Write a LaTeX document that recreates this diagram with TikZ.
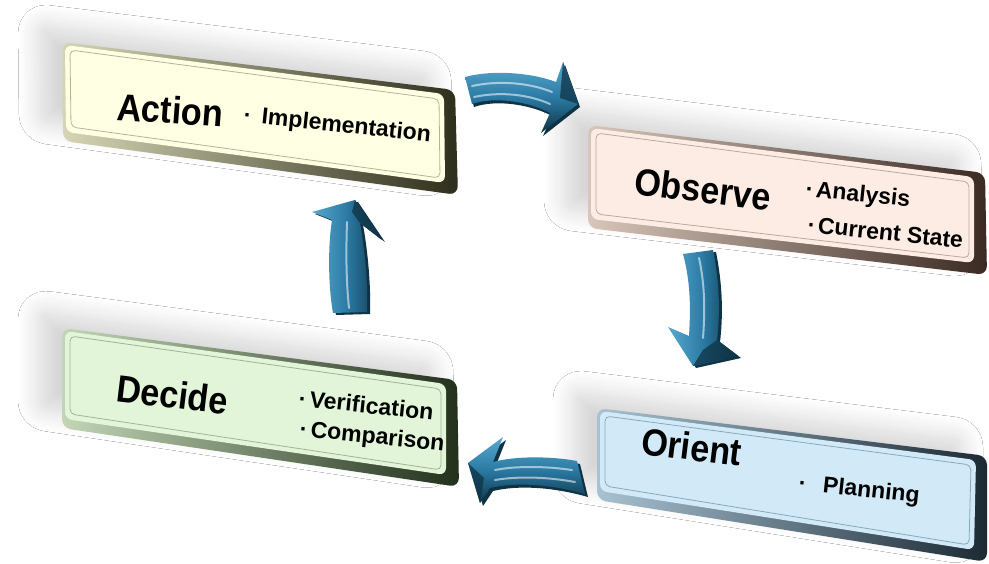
\documentclass[tikz,border=0pt]{standalone}
\usepackage{fontspec}
\setmainfont{Liberation Sans}
\usetikzlibrary{calc,shadows.blur}
\definecolor{faceA}{HTML}{FFFFE4}
\definecolor{edgeLA}{HTML}{D6D6B6}
\definecolor{edgeDA}{HTML}{2E2E1C}
\definecolor{lineA}{HTML}{B4B494}
\definecolor{faceO}{HTML}{FCECE3}
\definecolor{edgeLO}{HTML}{D8C6BA}
\definecolor{edgeDO}{HTML}{3A2A22}
\definecolor{lineO}{HTML}{BCA89C}
\definecolor{faceD}{HTML}{E3F5D9}
\definecolor{edgeLD}{HTML}{C2D6B6}
\definecolor{edgeDD}{HTML}{22301C}
\definecolor{lineD}{HTML}{9EB592}
\definecolor{faceR}{HTML}{D2EAF8}
\definecolor{edgeLR}{HTML}{A8C2D2}
\definecolor{edgeDR}{HTML}{1C2A34}
\definecolor{lineR}{HTML}{88A8BC}
\definecolor{arrLight}{HTML}{5AA8CE}
\definecolor{arrMid}{HTML}{2A7AA4}
\definecolor{arrDark}{HTML}{0F3345}
\newcommand\oodabox[5]{%
  \path[blur shadow={shadow xshift=-24pt, shadow yshift=18pt, shadow opacity=16, shadow blur radius=20pt, shadow blur steps=12},
        left color=#3, right color=#4, rounded corners=9]
    (#1tl) -- (#1tr) -- (#1br) -- (#1bl) -- cycle;
  \path[fill=#2, rounded corners=7]
    ($(#1tl)+(3,3)$) -- ($(#1tr)+(-11,4)$) -- ($(#1br)+(-13,-12)$) -- ($(#1bl)+(3,-9)$) -- cycle;
  \draw[#5, line width=0.8pt, rounded corners=5]
    ($(#1tl)+(8,8)$) -- ($(#1tr)+(-16,9)$) -- ($(#1br)+(-18,-17)$) -- ($(#1bl)+(8,-14)$) -- cycle;
}
\tikzset{
  title/.style={font=\bfseries\fontsize{38}{40}\selectfont, anchor=base west, inner sep=0pt, rotate=-7, xscale=0.9},
  item/.style={font=\bfseries\fontsize{23}{26}\selectfont, anchor=base west, inner sep=0pt, rotate=-6},
  arrowh/.style={top color=arrLight, bottom color=arrDark, middle color=arrMid},
  arrowv/.style={left color=arrLight, right color=arrDark, middle color=arrMid},
  arrowside/.style={fill=arrDark},
  facet/.style={fill=arrDark, opacity=0.75},
  hilite/.style={draw=white, opacity=0.55, line width=2pt, line cap=round}
}
\begin{document}
\begin{tikzpicture}[x=1pt, y=-1pt]
\useasboundingbox (0,0) rectangle (989,564);
\fill[white] (0,0) rectangle (989,564);
% corners
\coordinate (Atl) at (62,42);  \coordinate (Atr) at (455,90);  \coordinate (Abr) at (458,195); \coordinate (Abl) at (63,141);
\coordinate (Otl) at (588,125); \coordinate (Otr) at (985,173); \coordinate (Obr) at (987,275); \coordinate (Obl) at (588,228);
\coordinate (Dtl) at (62,328); \coordinate (Dtr) at (457,380); \coordinate (Dbr) at (459,487); \coordinate (Dbl) at (62,428);
\coordinate (Rtl) at (597,408); \coordinate (Rtr) at (987,456); \coordinate (Rbr) at (987,562); \coordinate (Rbl) at (597,500);
\oodabox{A}{faceA}{edgeLA}{edgeDA}{lineA}
\oodabox{O}{faceO}{edgeLO}{edgeDO}{lineO}
\oodabox{D}{faceD}{edgeLD}{edgeDD}{lineD}
\oodabox{R}{faceR}{edgeLR}{edgeDR}{lineR}
% texts
\node[title, rotate=3] (tA) at (116,120) {Action};
\node[item] (iA1) at (243,122) {·\hspace{0.45em}Implementation};
\node[title] (tO) at (633,194) {Observe};
\node[item] (iO1) at (805,196) {·\hspace{0.11em}Analysis};
\node[item] (iO2) at (807,232) {·\hspace{0.11em}Current State};
\node[title] (tD) at (115,401) {Decide};
\node[item] (iD1) at (298,406) {·\hspace{0.15em}Verification};
\node[item] (iD2) at (299,436) {·\hspace{0.15em}Comparison};
\node[title] (tR) at (640,454) {Orient};
\node[item] (iR1) at (798,490) {·\hspace{0.72em}Planning};
% arrow 1: Action -> Observe
\path[arrowside] (467,80) .. controls (492,73) and (532,75) .. (558,85) -- (565,65) -- (580,107) -- (543,136) -- (552,116) .. controls (532,105) and (497,99) .. (474,107) -- cycle;
\path[arrowh] (465,77) .. controls (490,70) and (530,72) .. (556,82) -- (563,62) -- (578,104) -- (541,133) -- (550,113) .. controls (530,102) and (495,96) .. (472,104) -- cycle;
\path[facet] (563,62) -- (578,104) -- (560,98) -- cycle;
\path[hilite] (472,86) .. controls (500,80) and (530,83) .. (552,92);
\path[hilite] (474,97) .. controls (502,91) and (530,95) .. (550,104);
% arrow 2: Observe -> Orient
\path[arrowside] (686,256) -- (716,252) .. controls (723,287) and (723,317) .. (720,342) -- (741,358) -- (696,368) -- (671,329) -- (692,338) .. controls (694,307) and (693,282) .. (686,256) -- cycle;
\path[arrowv] (683,254) -- (713,250) .. controls (720,285) and (720,315) .. (717,340) -- (738,356) -- (693,366) -- (668,327) -- (689,336) .. controls (691,305) and (690,280) .. (683,254) -- cycle;
\path[facet] (717,340) -- (738,356) -- (693,366) -- (703,350) -- cycle;
\path[hilite] (699,258) .. controls (705,285) and (705,312) .. (703,338);
% arrow 3: Orient -> Decide
\path[arrowside] (580,464) .. controls (553,459) and (518,459) .. (496,465) -- (506,440) -- (471,466) -- (483,506) -- (493,491) .. controls (518,485) and (553,487) .. (588,497) -- cycle;
\path[arrowh] (577,461) .. controls (550,456) and (515,456) .. (493,462) -- (503,437) -- (468,463) -- (480,503) -- (490,488) .. controls (515,482) and (550,484) .. (585,494) -- cycle;
\path[facet] (468,463) -- (480,503) -- (484,478) -- cycle;
\path[hilite] (572,470) .. controls (545,466) and (515,466) .. (495,470);
\path[hilite] (575,482) .. controls (548,477) and (518,476) .. (495,480);
% arrow 4: Decide -> Action
\path[arrowside] (336,315) .. controls (331,287) and (331,247) .. (335,222) -- (315,214) -- (358,202) -- (385,242) -- (363,225) .. controls (368,252) and (371,287) .. (370,314) -- cycle;
\path[arrowv] (333,313) .. controls (328,285) and (328,245) .. (332,220) -- (312,212) -- (355,200) -- (382,240) -- (360,223) .. controls (365,250) and (368,285) .. (367,312) -- cycle;
\path[facet] (355,200) -- (382,240) -- (360,223) -- (352,212) -- cycle;
\path[hilite] (349,308) .. controls (346,280) and (346,250) .. (347,222);
\end{tikzpicture}
\end{document}
